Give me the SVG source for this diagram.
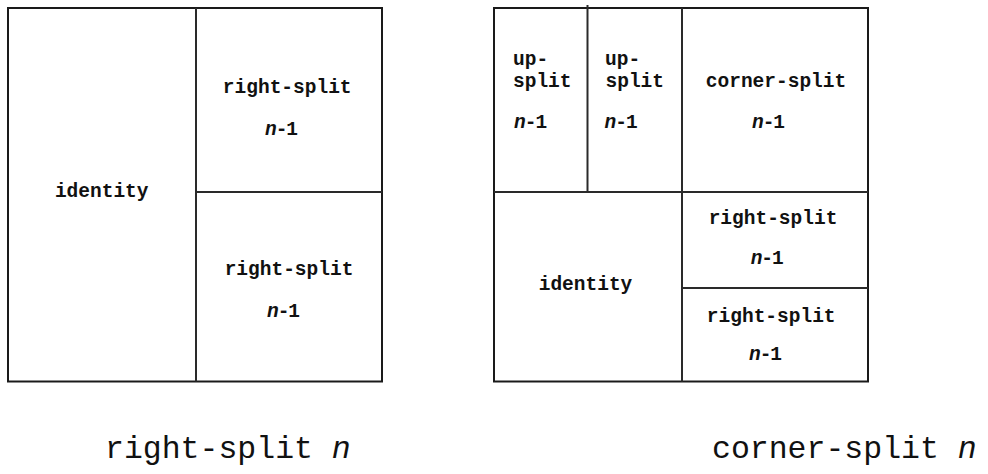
<svg xmlns="http://www.w3.org/2000/svg" width="988" height="474" viewBox="0 0 988 474">
<style>
.bg{fill:#ffffff}
.frame{fill:none;stroke:#1a1a1a;stroke-width:2}
.ln{stroke:#2a2a2a;stroke-width:2;fill:none}
.lbl{font-family:"Liberation Mono","Courier New",monospace;font-size:19.5px;font-weight:bold;fill:#111111}
.mid{text-anchor:middle}
.it{font-style:italic}
.nm{letter-spacing:-1px}
.cap{font-family:"Liberation Mono","Courier New",monospace;font-size:31.5px;fill:#111111}
</style>
<rect class="bg" x="0" y="0" width="988" height="474"/>

<g id="right-split-n">
  <g id="rs-identity">
    <text class="lbl mid" x="101.7" y="197">identity</text>
  </g>
  <g id="rs-top">
    <text class="lbl mid" x="287.2" y="93">right-split</text>
    <text class="lbl mid nm" x="281" y="135"><tspan class="it">n</tspan>-1</text>
  </g>
  <g id="rs-bottom">
    <text class="lbl mid" x="289" y="275">right-split</text>
    <text class="lbl mid nm" x="283" y="316.7"><tspan class="it">n</tspan>-1</text>
  </g>
  <g id="rs-lines">
    <rect class="frame" x="8" y="8" width="374" height="373.5"/>
    <line class="ln" x1="196" y1="8" x2="196" y2="381.5"/>
    <line class="ln" x1="196" y1="192" x2="382" y2="192"/>
  </g>
  <text id="cap-right" class="cap" x="105" y="458">right-split <tspan class="it">n</tspan></text>
</g>

<g id="corner-split-n">
  <g id="cs-up1">
    <text class="lbl" x="513" y="65">up-</text>
    <text class="lbl" x="513" y="87">split</text>
    <text class="lbl nm" x="514" y="128"><tspan class="it">n</tspan>-1</text>
  </g>
  <g id="cs-up2">
    <text class="lbl" x="605" y="65">up-</text>
    <text class="lbl" x="605.5" y="87">split</text>
    <text class="lbl nm" x="604.5" y="128"><tspan class="it">n</tspan>-1</text>
  </g>
  <g id="cs-corner">
    <text class="lbl mid" x="776" y="87">corner-split</text>
    <text class="lbl mid nm" x="768" y="128"><tspan class="it">n</tspan>-1</text>
  </g>
  <g id="cs-identity">
    <text class="lbl mid" x="585.5" y="290">identity</text>
  </g>
  <g id="cs-right1">
    <text class="lbl mid" x="773" y="224.3">right-split</text>
    <text class="lbl mid nm" x="766.7" y="264.3"><tspan class="it">n</tspan>-1</text>
  </g>
  <g id="cs-right2">
    <text class="lbl mid" x="771.2" y="321.7">right-split</text>
    <text class="lbl mid nm" x="765" y="360"><tspan class="it">n</tspan>-1</text>
  </g>
  <g id="cs-lines">
    <rect class="frame" x="494" y="8" width="374" height="373.5"/>
    <line class="ln" x1="587.5" y1="5" x2="587.5" y2="192"/>
    <line class="ln" x1="682" y1="8" x2="682" y2="381.5"/>
    <line class="ln" x1="494" y1="192" x2="868" y2="192"/>
    <line class="ln" x1="682" y1="288" x2="868" y2="288"/>
  </g>
  <text id="cap-corner" class="cap" x="712" y="458">corner-split <tspan class="it">n</tspan></text>
</g>
</svg>
